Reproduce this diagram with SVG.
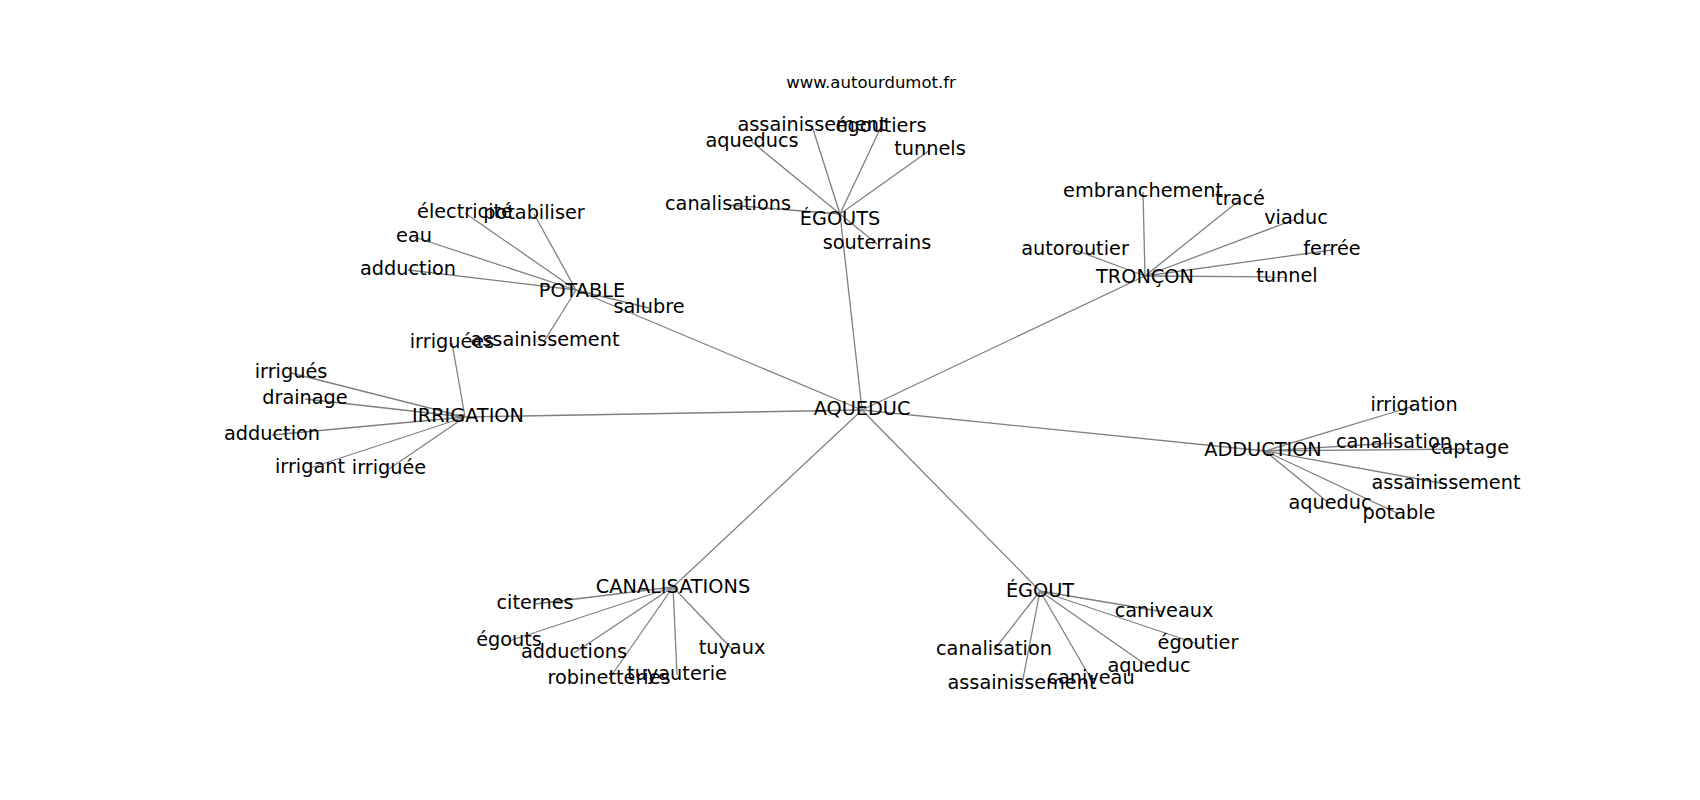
<svg xmlns="http://www.w3.org/2000/svg" width="1700" height="800" viewBox="0 0 1700 800">
<style>
.e{stroke:#808080;stroke-width:1.3;fill:none}
text{font-family:"DejaVu Sans",sans-serif;font-size:19.3px;fill:#000;text-anchor:middle}
.t{font-size:16.5px}
</style>
<rect width="1700" height="800" fill="#fff"/>
<g id="connectors">
<line class="e" x1="862" y1="410" x2="840" y2="214"/>
<line class="e" x1="862" y1="410" x2="576" y2="290"/>
<line class="e" x1="862" y1="410" x2="1145" y2="276"/>
<line class="e" x1="862" y1="410" x2="465" y2="417"/>
<line class="e" x1="862" y1="410" x2="1265" y2="451"/>
<line class="e" x1="862" y1="410" x2="673" y2="587"/>
<line class="e" x1="862" y1="410" x2="1040" y2="591"/>
<line class="e" x1="840" y1="214" x2="752" y2="142"/>
<line class="e" x1="840" y1="214" x2="812" y2="126"/>
<line class="e" x1="840" y1="214" x2="881" y2="127"/>
<line class="e" x1="840" y1="214" x2="930" y2="150"/>
<line class="e" x1="840" y1="214" x2="728" y2="205"/>
<line class="e" x1="840" y1="214" x2="877" y2="244"/>
<line class="e" x1="576" y1="290" x2="465" y2="213"/>
<line class="e" x1="576" y1="290" x2="534" y2="214"/>
<line class="e" x1="576" y1="290" x2="414" y2="237"/>
<line class="e" x1="576" y1="290" x2="408" y2="270"/>
<line class="e" x1="576" y1="290" x2="649" y2="308"/>
<line class="e" x1="576" y1="290" x2="545" y2="340"/>
<line class="e" x1="465" y1="417" x2="452" y2="343"/>
<line class="e" x1="465" y1="417" x2="291" y2="373"/>
<line class="e" x1="465" y1="417" x2="305" y2="399"/>
<line class="e" x1="465" y1="417" x2="272" y2="435"/>
<line class="e" x1="465" y1="417" x2="310" y2="468"/>
<line class="e" x1="465" y1="417" x2="389" y2="469"/>
<line class="e" x1="1145" y1="276" x2="1143" y2="192"/>
<line class="e" x1="1145" y1="276" x2="1240" y2="200"/>
<line class="e" x1="1145" y1="276" x2="1296" y2="219"/>
<line class="e" x1="1145" y1="276" x2="1332" y2="250"/>
<line class="e" x1="1145" y1="276" x2="1287" y2="277"/>
<line class="e" x1="1145" y1="276" x2="1075" y2="250"/>
<line class="e" x1="1265" y1="451" x2="1414" y2="406"/>
<line class="e" x1="1265" y1="451" x2="1394" y2="443"/>
<line class="e" x1="1265" y1="451" x2="1470" y2="449"/>
<line class="e" x1="1265" y1="451" x2="1446" y2="484"/>
<line class="e" x1="1265" y1="451" x2="1330" y2="504"/>
<line class="e" x1="1265" y1="451" x2="1399" y2="514"/>
<line class="e" x1="673" y1="587" x2="535" y2="604"/>
<line class="e" x1="673" y1="587" x2="509" y2="641"/>
<line class="e" x1="673" y1="587" x2="574" y2="653"/>
<line class="e" x1="673" y1="587" x2="609" y2="679"/>
<line class="e" x1="673" y1="587" x2="677" y2="675"/>
<line class="e" x1="673" y1="587" x2="732" y2="649"/>
<line class="e" x1="1040" y1="591" x2="1164" y2="612"/>
<line class="e" x1="1040" y1="591" x2="1198" y2="644"/>
<line class="e" x1="1040" y1="591" x2="994" y2="650"/>
<line class="e" x1="1040" y1="591" x2="1022" y2="684"/>
<line class="e" x1="1040" y1="591" x2="1091" y2="679"/>
<line class="e" x1="1040" y1="591" x2="1149" y2="667"/>
</g>
<g id="title"><text class="t" x="871" y="88">www.autourdumot.fr</text></g>
<g id="n-aqueduc"><text x="862" y="415">AQUEDUC</text></g>
<g id="n-egouts"><text x="840" y="225">ÉGOUTS</text></g>
<g id="n-potable"><text x="582" y="297">POTABLE</text></g>
<g id="n-troncon"><text x="1145" y="283">TRONÇON</text></g>
<g id="n-irrigation"><text x="468" y="422">IRRIGATION</text></g>
<g id="n-adduction"><text x="1263" y="456">ADDUCTION</text></g>
<g id="n-canalisations"><text x="673" y="593">CANALISATIONS</text></g>
<g id="n-egout"><text x="1040" y="597">ÉGOUT</text></g>
<g id="n-egouts-aqueducs"><text x="752" y="147">aqueducs</text></g>
<g id="n-egouts-assainissement"><text x="812" y="131">assainissement</text></g>
<g id="n-egoutiers"><text x="881" y="132">égoutiers</text></g>
<g id="n-tunnels"><text x="930" y="155">tunnels</text></g>
<g id="n-egouts-canalisations"><text x="728" y="210">canalisations</text></g>
<g id="n-souterrains"><text x="877" y="249">souterrains</text></g>
<g id="n-electricite"><text x="465" y="218">électricité</text></g>
<g id="n-potabiliser"><text x="534" y="219">potabiliser</text></g>
<g id="n-eau"><text x="414" y="242">eau</text></g>
<g id="n-potable-adduction"><text x="408" y="275">adduction</text></g>
<g id="n-salubre"><text x="649" y="313">salubre</text></g>
<g id="n-potable-assainissement"><text x="545" y="346">assainissement</text></g>
<g id="n-irriguees"><text x="452" y="348">irriguées</text></g>
<g id="n-irrigues"><text x="291" y="378">irrigués</text></g>
<g id="n-drainage"><text x="305" y="404">drainage</text></g>
<g id="n-irrigation-adduction"><text x="272" y="440">adduction</text></g>
<g id="n-irrigant"><text x="310" y="473">irrigant</text></g>
<g id="n-irriguee"><text x="389" y="474">irriguée</text></g>
<g id="n-embranchement"><text x="1143" y="197">embranchement</text></g>
<g id="n-trace"><text x="1240" y="205">tracé</text></g>
<g id="n-viaduc"><text x="1296" y="224">viaduc</text></g>
<g id="n-ferree"><text x="1332" y="255">ferrée</text></g>
<g id="n-tunnel"><text x="1287" y="282">tunnel</text></g>
<g id="n-autoroutier"><text x="1075" y="255">autoroutier</text></g>
<g id="n-irrigation2"><text x="1414" y="411">irrigation</text></g>
<g id="n-adduction-canalisation"><text x="1394" y="448">canalisation</text></g>
<g id="n-captage"><text x="1470" y="454">captage</text></g>
<g id="n-adduction-assainissement"><text x="1446" y="489">assainissement</text></g>
<g id="n-adduction-aqueduc"><text x="1330" y="509">aqueduc</text></g>
<g id="n-potable2"><text x="1399" y="519">potable</text></g>
<g id="n-citernes"><text x="535" y="609">citernes</text></g>
<g id="n-egouts2"><text x="509" y="646">égouts</text></g>
<g id="n-adductions"><text x="574" y="658">adductions</text></g>
<g id="n-robinetteries"><text x="609" y="684">robinetteries</text></g>
<g id="n-tuyauterie"><text x="677" y="680">tuyauterie</text></g>
<g id="n-tuyaux"><text x="732" y="654">tuyaux</text></g>
<g id="n-caniveaux"><text x="1164" y="617">caniveaux</text></g>
<g id="n-egoutier"><text x="1198" y="649">égoutier</text></g>
<g id="n-egout-canalisation"><text x="994" y="655">canalisation</text></g>
<g id="n-egout-assainissement"><text x="1022" y="689">assainissement</text></g>
<g id="n-caniveau"><text x="1091" y="684">caniveau</text></g>
<g id="n-egout-aqueduc"><text x="1149" y="672">aqueduc</text></g>
</svg>
